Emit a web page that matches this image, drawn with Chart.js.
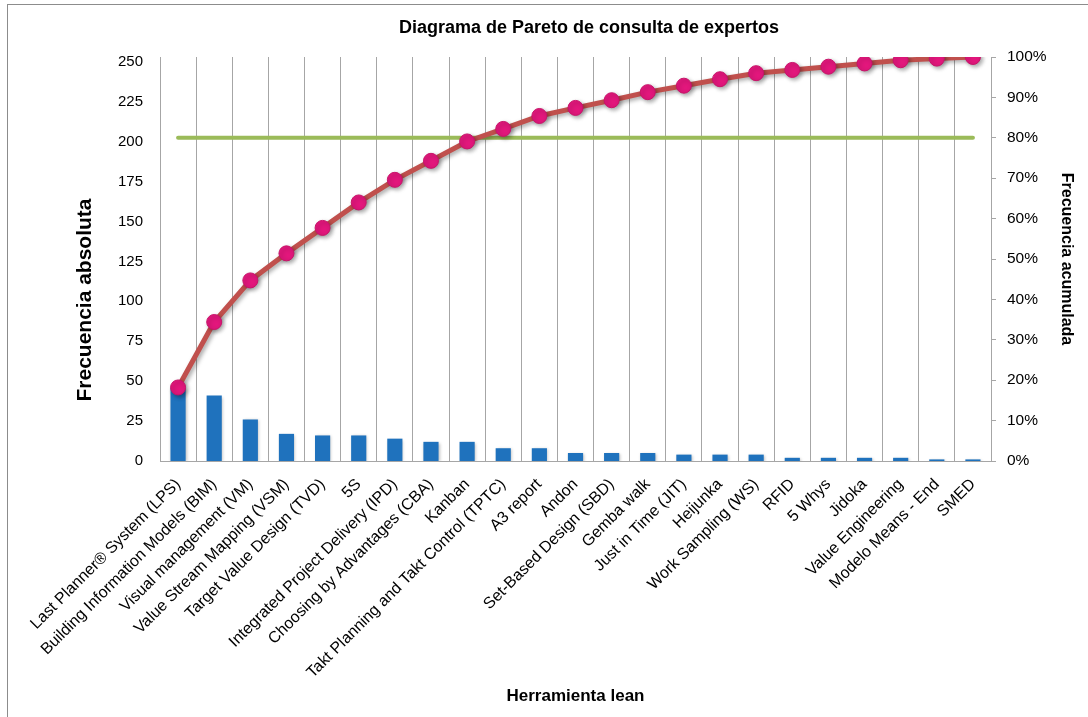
<!DOCTYPE html>
<html>
<head>
<meta charset="utf-8">
<script src="https://cdn.jsdelivr.net/npm/chart.js@4"></script>
<style>
  html, body { margin: 0; padding: 0; background: #ffffff; }
  #wrap { position: absolute; left: 0; top: 0; width: 1088px; height: 717px; }
  #frame { position: absolute; left: 7px; top: 4px; width: 1100px; height: 730px;
           border-left: 1px solid #8c8c8c; border-top: 1px solid #8c8c8c; pointer-events: none; }
</style>
</head>
<body>
<div id="wrap"><canvas id="c" width="1088" height="717"></canvas></div>
<div id="frame"></div>
<script>
const categories = [
  "Last Planner® System (LPS)",
  "Building Information Models (BIM)",
  "Visual management (VM)",
  "Value Stream Mapping (VSM)",
  "Target Value Design (TVD)",
  "5S",
  "Integrated Project Delivery (IPD)",
  "Choosing by Advantages (CBA)",
  "Kanban",
  "Takt Planning and Takt Control (TPTC)",
  "A3 report",
  "Andon",
  "Set-Based Design (SBD)",
  "Gemba walk",
  "Just in Time (JIT)",
  "Heijunka",
  "Work Sampling (WS)",
  "RFID",
  "5 Whys",
  "Jidoka",
  "Value Engineering",
  "Modelo Means - End",
  "SMED"
];
const frequency = [46, 41, 26, 17, 16, 16, 14, 12, 12, 8, 8, 5, 5, 5, 4, 4, 4, 2, 2, 2, 2, 1, 1];
const cumulativePct = [18.2, 34.4, 44.7, 51.4, 57.7, 64.0, 69.6, 74.3, 79.1, 82.2, 85.4, 87.4, 89.3, 91.3, 92.9, 94.5, 96.0, 96.8, 97.6, 98.4, 99.2, 99.6, 100];
const thresholdPct = [80, 80, 80, 80, 80, 80, 80, 80, 80, 80, 80, 80, 80, 80, 80, 80, 80, 80, 80, 80, 80, 80, 80];
const leftTicks = [0, 25, 50, 75, 100, 125, 150, 175, 200, 225, 250];
const leftAxisMax = 253;
const rightTicks = [0, 10, 20, 30, 40, 50, 60, 70, 80, 90, 100];

const FONT = "'Liberation Sans', Arial, sans-serif";
const GRID = '#a6a6a6';

const shadowPlugin = {
  id: 'shadowPlugin',
  beforeDatasetDraw(chart, args) {
    const ctx = chart.ctx;
    ctx.save();
    if (args.index === 2) {
      ctx.shadowColor = 'rgba(0,0,0,0.35)';
      ctx.shadowBlur = 4;
      ctx.shadowOffsetX = 2;
      ctx.shadowOffsetY = 2;
    } else if (args.index === 0) {
      ctx.shadowColor = 'rgba(0,0,0,0.25)';
      ctx.shadowBlur = 3;
      ctx.shadowOffsetX = 1;
      ctx.shadowOffsetY = 1;
    }
  },
  afterDatasetDraw(chart) {
    chart.ctx.restore();
  }
};

// Left axis title drawn as real canvas text (positioned like the reference)
const leftTitlePlugin = {
  id: 'leftTitlePlugin',
  afterDraw(chart) {
    const ctx = chart.ctx;
    ctx.save();
    ctx.translate(85, 300);
    ctx.rotate(-Math.PI / 2);
    ctx.font = "bold 21px " + FONT;
    ctx.fillStyle = '#000000';
    ctx.textAlign = 'center';
    ctx.textBaseline = 'middle';
    ctx.fillText('Frecuencia absoluta', 0, 0);
    ctx.restore();
  }
};

function barGradient(context) {
  const chart = context.chart;
  const el = context.element;
  if (!el || !chart.chartArea) return '#1f72bd';
  const w = el.width || 15;
  const x0 = el.x - w / 2, x1 = el.x + w / 2;
  if (!isFinite(x0) || !isFinite(x1)) return '#1f72bd';
  const g = chart.ctx.createLinearGradient(x0, 0, x1, 0);
  g.addColorStop(0, '#17508a');
  g.addColorStop(0.35, '#2a86d4');
  g.addColorStop(0.6, '#2279c6');
  g.addColorStop(1, '#154b82');
  return g;
}

new Chart(document.getElementById('c'), {
  type: 'bar',
  data: {
    labels: categories,
    datasets: [
      {
        type: 'bar',
        label: 'Frecuencia absoluta',
        data: frequency,
        yAxisID: 'y',
        backgroundColor: barGradient,
        borderWidth: 0,
        barPercentage: 0.42,
        categoryPercentage: 1.0,
        order: 3
      },
      {
        type: 'line',
        label: '80%',
        data: thresholdPct,
        yAxisID: 'y1',
        borderColor: '#9bbb59',
        borderWidth: 4,
        pointRadius: 0,
        borderCapStyle: 'round',
        fill: false,
        tension: 0,
        order: 2
      },
      {
        type: 'line',
        label: 'Frecuencia acumulada',
        data: cumulativePct,
        yAxisID: 'y1',
        borderColor: '#c0504d',
        borderWidth: 5,
        pointRadius: 7.5,
        pointBackgroundColor: '#e2177c',
        pointBorderColor: '#c8146a',
        pointBorderWidth: 1,
        fill: false,
        tension: 0,
        order: 1
      }
    ]
  },
  options: {
    responsive: false,
    animation: false,
    layout: { padding: { left: 100, right: 10, top: 10, bottom: 10 } },
    plugins: {
      legend: { display: false },
      tooltip: { enabled: false },
      title: {
        display: true,
        text: 'Diagrama de Pareto de consulta de expertos',
        color: '#000000',
        font: { family: FONT, size: 18, weight: 'bold' },
        padding: { top: 7, bottom: 18.4 }
      }
    },
    scales: {
      x: {
        offset: true,
        grid: { display: true, offset: true, color: GRID, lineWidth: 1, drawTicks: false },
        border: { display: true, color: GRID, width: 1 },
        ticks: {
          autoSkip: false, minRotation: 45, maxRotation: 45,
          color: '#000000', padding: 14,
          font: { family: FONT, size: 16 }
        },
        title: {
          display: true, text: 'Herramienta lean', color: '#000000',
          font: { family: FONT, size: 17, weight: 'bold' },
          padding: { top: 6, bottom: 0 }
        },
        afterFit(scale) { scale.height = 246; }
      },
      y: {
        position: 'left',
        min: 0,
        max: leftAxisMax,
        grid: { display: false, drawTicks: false },
        border: { display: true, color: GRID, width: 1 },
        afterBuildTicks(scale) { scale.ticks = leftTicks.map(v => ({ value: v })); },
        ticks: {
          color: '#000000', padding: 17,
          font: { family: FONT, size: 15 }
        },
        title: { display: false },
        afterFit(scale) { scale.width = 60; }
      },
      y1: {
        position: 'right',
        min: 0,
        max: 100,
        grid: { display: true, drawOnChartArea: false, drawTicks: true, tickLength: 5, color: GRID },
        border: { display: true, color: GRID, width: 1 },
        afterBuildTicks(scale) { scale.ticks = rightTicks.map(v => ({ value: v })); },
        ticks: {
          color: '#000000', padding: 11,
          font: { family: FONT, size: 15.5 },
          callback: v => v + '%'
        },
        title: {
          display: true, text: 'Frecuencia acumulada', color: '#000000',
          font: { family: FONT, size: 16, weight: 'bold' },
          padding: { top: 2, bottom: 0 }
        },
        afterFit(scale) { scale.width = 87; }
      }
    }
  },
  plugins: [shadowPlugin, leftTitlePlugin]
});
</script>
</body>
</html>
